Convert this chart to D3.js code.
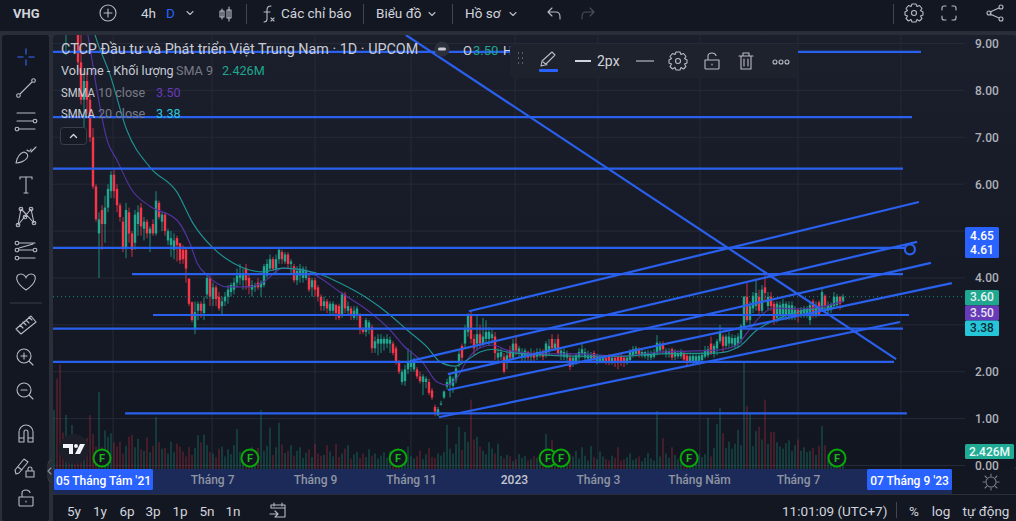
<!DOCTYPE html>
<html lang="vi">
<head>
<meta charset="utf-8">
<title>VHG</title>
<script src="https://cdn.jsdelivr.net/npm/d3@7"></script>
<style>
html,body{margin:0;padding:0;background:#131722;overflow:hidden}
svg{display:block;font-family:Roboto,"Noto Sans",sans-serif}
</style>
</head>
<body>
<svg id="chart" width="1016" height="521"></svg>
<script>
// Daily candles for VHG, ten bars per row
const opens = [
12.4,12.8,12.2,11.6,9.6,10.4,9.9,10,9.4,8.6,
7.8,8.2,7.8,7,5.95,4.95,5.45,5.15,5.5,5.85,
6.2,5.9,5.55,5.2,4.65,5.4,4.95,4.75,5.15,5.5,
5.05,5.2,4.95,5.15,4.95,5.6,5.2,5.35,4.8,4.7,
4.6,4.85,4.74,4.6,4.6,3.98,3.48,2.9,3.3,3.45,
3.25,3.65,4,3.55,3.8,3.6,3.4,3.5,3.6,3.7,
3.75,3.9,4,3.95,4.2,4,3.75,3.8,3.9,3.8,
3.85,4.05,4.2,4.4,4.2,4.4,4.55,4.35,4.5,4.3,
4.25,3.95,4.05,4,4,4,3.8,3.95,3.8,3.6,
3.4,3.5,3.3,3.3,3.42,3.4,3.2,3.65,3.3,3.35,
3.15,3.2,3.2,2.9,2.85,2.9,2.95,2.5,2.6,2.6,
2.6,2.6,2.6,2.6,2.5,2.2,1.78,1.8,2.05,2.1,
2.05,2.05,1.9,1.78,1.78,1.78,1.6,1.25,1.07,1.3,
1.45,1.68,1.72,1.7,1.82,2.2,2.55,2.6,2.85,3.2,
2.7,2.6,2.8,2.6,2.7,2.7,2.72,2.75,2.3,2.32,
2.32,2.2,2.45,2.3,2.6,2.4,2.3,2.3,2.42,2.32,
2.4,2.32,2.35,2.42,2.35,2.45,2.7,2.5,2.7,2.35,
2.32,2.3,2.3,2.2,2.22,2.3,2.38,2.3,2.28,2.28,
2.4,2.22,2.22,2.22,2.3,2.32,2.2,2.3,2.32,2.32,
2.3,2.2,2.25,2.35,2.38,2.48,2.35,2.33,2.33,2.3,
2.32,2.4,2.45,2.6,2.38,2.38,2.48,2.32,2.33,2.33,
2.4,2.34,2.22,2.2,2.22,2.2,2.25,2.32,2.35,2.6,
2.38,2.5,2.65,2.75,2.55,2.6,2.6,2.55,2.6,2.7,
2.98,3.6,3.1,3.35,3.4,3.6,3.3,3.8,3.4,3.6,
3.45,3.15,3.2,3.2,3.2,3.18,3.2,3.22,3.32,3.22,
3.25,3.2,3.1,3.5,3.22,3.48,3.35,3.62,3.3,3.32,
3.4,3.42,3.6,3.5];
const closes = [
12.8,12.2,11.6,11,10.4,9.9,10,9.4,8.6,7.8,
8.2,7.8,7,5.95,5.25,5.25,5.15,5.5,5.9,6.2,
5.85,5.55,5.3,4.65,5.45,4.95,4.6,5.35,5.4,5.1,
5.2,4.95,5.05,4.95,5.65,5.3,5.35,5,5,4.85,
4.8,4.7,4.38,4.4,4.2,3.45,3.1,3.27,3.45,3.3,
3.45,4,3.6,3.8,3.55,3.35,3.5,3.6,3.75,3.85,
3.9,4.05,4.1,4.1,3.95,3.8,3.85,3.85,3.8,3.9,
4.25,4.3,4.4,4.2,4.4,4.6,4.4,4.5,4.3,4.35,
3.95,4.15,4.2,4.2,4.15,3.75,3.95,3.75,3.6,3.4,
3.5,3.35,3.45,3.45,3.25,3.15,3.65,3.35,3.4,3.2,
3.3,3.35,2.9,2.85,3.1,3.05,2.5,2.65,2.7,2.7,
2.7,2.7,2.68,2.4,2.2,2,2,2.05,2.2,2.25,
2.25,1.9,1.8,1.9,1.85,1.55,1.45,1.15,1.2,1.32,
1.58,1.78,1.9,1.85,2.07,2.38,2.3,2.9,3.2,2.7,
2.5,2.8,2.6,2.75,2.85,2.85,2.8,2.4,2.4,2.42,
2,2.35,2.3,2.6,2.45,2.5,2.42,2.45,2.3,2.4,
2.3,2.42,2.42,2.32,2.6,2.55,2.5,2.6,2.4,2.45,
2.42,2.4,2.1,2.3,2.35,2.42,2.48,2.42,2.35,2.35,
2.25,2.32,2.28,2.3,2.2,2.2,2.3,2.2,2.2,2.2,
2.2,2.3,2.42,2.48,2.5,2.38,2.42,2.42,2.4,2.38,
2.4,2.62,2.6,2.48,2.45,2.44,2.3,2.42,2.4,2.42,
2.26,2.2,2.33,2.34,2.33,2.34,2.36,2.45,2.48,2.4,
2.55,2.65,2.85,2.55,2.75,2.75,2.72,2.72,2.75,2.98,
3.6,3.1,3.4,3.62,3.68,3.3,3.75,3.68,3.6,3.4,
3.1,3.45,3.42,3.45,3.45,3.42,3.42,3.32,3.22,3.32,
3.35,3.35,3.42,3.2,3.4,3.22,3.7,3.4,3.42,3.42,
3.6,3.6,3.45,3.6];
const highs = [
13.2,13,12.5,11.8,10.6,10.5,10.2,10,9.5,9.2,
8.4,8.4,7.9,7.2,6,5.4,5.55,5.75,6,6.28,
6.3,6,5.6,5.3,5.6,5.5,5,5.45,5.55,5.6,
5.3,5.25,5.1,5.25,5.85,5.65,5.4,5.4,5.05,5,
4.95,4.9,4.75,4.7,4.65,4,3.5,3.5,3.5,3.5,
3.6,4.05,4.05,3.9,3.85,3.7,3.6,3.7,3.85,3.9,
4,4.2,4.3,4.2,4.3,4.1,3.95,3.9,4,3.95,
4.3,4.4,4.5,4.45,4.5,4.62,4.6,4.55,4.55,4.4,
4.3,4.25,4.3,4.25,4.25,4.1,4,4,3.85,3.65,
3.6,3.55,3.5,3.5,3.45,3.45,3.7,3.7,3.5,3.4,
3.4,3.4,3.25,2.95,3.15,3.1,3,2.75,2.8,2.8,
2.75,2.8,2.75,2.65,2.55,2.25,2.05,2.15,2.5,2.45,
2.3,2.1,2,1.95,1.9,1.85,1.65,1.3,1.25,1.38,
1.6,1.85,1.95,1.9,2.1,2.45,2.6,3,3.25,3.3,
2.8,3.2,3,3.15,3.1,2.95,2.9,2.85,2.5,2.5,
2.4,2.45,2.55,2.7,2.75,2.55,2.5,2.5,2.45,2.5,
2.45,2.5,2.5,2.48,2.65,2.7,2.8,2.7,2.8,2.5,
2.5,2.45,2.4,2.35,2.4,2.5,2.62,2.5,2.45,2.42,
2.45,2.38,2.35,2.35,2.36,2.38,2.35,2.35,2.35,2.38,
2.34,2.34,2.48,2.55,2.55,2.52,2.5,2.45,2.46,2.45,
2.48,2.78,2.65,2.65,2.5,2.5,2.52,2.48,2.46,2.48,
2.44,2.4,2.38,2.4,2.38,2.4,2.42,2.55,2.55,2.75,
2.6,2.7,3,2.8,2.8,2.85,2.8,2.78,2.82,3.02,
3.62,3.89,3.5,3.7,3.95,3.75,3.85,4.06,3.7,3.7,
3.5,3.5,3.5,3.55,3.5,3.5,3.5,3.4,3.36,3.38,
3.4,3.4,3.48,3.55,3.5,3.52,3.78,3.65,3.5,3.48,
3.7,3.66,3.62,3.66];
const lows = [
12,12,11.4,10.6,8.75,9.7,9.5,9.2,8.4,7.7,
7.2,7.5,6.9,5.9,5.2,4,4.6,4.75,5.4,5.7,
5.7,5.4,5.2,4.55,4.42,4.75,4.45,4.6,4.9,4.9,
4.8,4.85,4.55,4.9,4.9,5.25,5,4.9,4.7,4.45,
4.4,4.35,4.3,4.3,3.9,3.4,3.05,2.8,3.1,3.15,
3.1,3.55,3.4,3.4,3.4,3.3,3.2,3.4,3.45,3.6,
3.65,3.8,3.85,3.75,3.75,3.65,3.6,3.7,3.75,3.6,
3.8,4,4.15,4.15,4.1,4.3,4.3,4.3,4.2,4.1,
3.9,3.85,3.9,3.9,3.95,3.7,3.6,3.6,3.5,3.3,
3.3,3.25,3.2,3.2,3.1,3.1,3.15,3.25,3.2,3.1,
3.1,3.1,2.8,2.8,2.75,2.8,2.4,2.4,2.35,2.4,
2.45,2.5,2.4,2.35,2.15,1.95,1.72,1.7,1.95,2,
2,1.85,1.75,1.5,1.65,1.5,1.4,1.05,1.05,1.28,
1.42,1.62,1.45,1.55,1.75,2.1,2.2,2.5,2.75,2.6,
2.35,2.45,2.5,2.55,2.6,2.55,2.6,2.25,2.2,2.25,
1.96,2.05,2.2,2.25,2.35,2.3,2.2,2.2,2.2,2.2,
2.22,2.25,2.3,2.25,2.3,2.35,2.45,2.45,2.35,2.25,
2.25,2.22,2.03,2.1,2.15,2.2,2.3,2.2,2.2,2.2,
2.2,2.16,2.18,2.18,2.15,2.14,2.15,2.1,2.05,2.12,
2.1,2.15,2.2,2.3,2.32,2.3,2.3,2.28,2.25,2.25,
2.28,2.35,2.4,2.4,2.3,2.3,2.25,2.25,2.28,2.28,
2.22,2.12,2.18,2.14,2.15,2.15,2.2,2.28,2.3,2.35,
2.3,2.35,2.6,2.42,2.5,2.5,2.52,2.5,2.5,2.6,
2.95,3.05,3,3.25,3.3,3.2,3.25,3.5,3.3,3.3,
3,3.05,3.1,3.1,3.1,3.1,3.1,3.1,3.05,3.15,
3.15,3.15,3,3.15,3.15,3.18,3.3,3.3,3.25,3.25,
3.35,3.38,3.32,3.48];
// Traded volume in millions of shares
const volumes = [
8.4,12.9,14.9,5.2,7.7,4.1,6.3,3.4,4.2,3.0,
2.4,4.4,7.7,5.0,3.2,11.0,3.1,5.5,4.6,5.1,
3.8,3.2,3.9,2.2,3.3,4.6,4.9,3.1,4.3,2.8,
2.6,4.5,2.4,3.3,7.4,3.8,2.9,3.0,2.2,3.9,
2.4,3.6,3.2,2.5,1.8,3.1,2.0,3.0,4.8,3.8,
4.9,3.4,2.4,2.2,1.7,2.9,3.2,1.8,2.8,2.1,
3.4,5.7,2.4,1.6,1.6,2.6,3.1,2.1,3.0,8.4,
2.6,3.3,5.9,2.0,3.1,6.6,3.5,2.3,2.6,3.4,
1.9,2.6,3.1,1.6,2.3,2.8,1.7,3.6,2.2,1.9,
2.0,3.4,2.5,1.8,3.6,1.7,2.2,2.9,3.4,1.5,
2.1,2.4,1.6,2.2,1.7,2.8,1.9,2.2,1.5,1.9,
2.4,1.6,2.5,2.3,1.5,1.9,2.6,1.9,3.2,1.8,
1.5,1.8,2.6,1.4,2.1,3.0,1.7,1.6,2.2,1.9,
2.4,6.3,2.9,2.2,3.6,6.0,2.7,5.3,3.9,9.9,
4.2,4.6,3.2,2.6,2.1,3.8,2.9,2.2,3.6,1.9,
1.5,2.0,1.8,1.1,1.4,2.1,1.6,1.9,1.2,1.4,
1.8,1.6,2.1,1.2,5.0,1.5,4.1,2.5,1.5,1.9,
1.7,1.4,2.1,1.8,2.6,1.5,3.1,1.9,1.2,3.3,
1.7,1.4,2.5,1.8,1.4,1.2,1.9,1.6,3.1,1.2,
1.4,1.7,2.2,1.3,1.5,1.8,1.1,1.6,2.3,1.5,
1.2,8.3,1.8,4.4,2.2,1.6,3.1,2.0,1.4,0.9,
1.6,1.2,1.5,2.4,1.3,2.1,1.7,2.1,7.3,1.8,
3.0,6.4,8.7,5.1,3.0,3.9,2.9,3.6,5.6,3.4,
15.4,9.0,8.0,3.3,5.4,6.0,4.2,9.9,3.6,5.3,
5.3,3.8,3.2,2.9,3.7,4.1,2.6,3.4,4.2,2.6,
3.1,2.4,2.6,3.0,2.0,3.3,6.1,3.4,2.1,1.4,
2.6,1.8,2.2,2.426];
// Smoothed moving averages sampled along their curves
const smma10Bars = [7,11.3,14.7,17.7,21,26,32,41,45.3,47.7,51,57.7,65.3,69.7,76.3,84.3,88.7,95.3,104.3,112,116.3,123,127.7,131,134.3,137.7,142,146.3,151,162,175.3,188.7,202,221,227.7,231,235.3,239.7,246.3,253,263];
const smma10Vals = [10.4,9.18,7.86,6.94,6.51,5.87,5.53,5.23,4.74,4.32,4.06,3.81,3.81,3.91,4.21,4.15,4,3.7,3.32,2.89,2.57,2.19,1.78,1.72,1.87,2.25,2.51,2.57,2.46,2.38,2.38,2.33,2.42,2.46,2.57,2.83,3.17,3.36,3.34,3.36,3.5];
const smma20Bars = [9,13.7,18.7,24.3,32,41,46.3,53,59.7,69.7,76.3,84.3,88.7,95.3,104.3,112,117.7,124.3,128.7,133.7,137.7,142,146.3,151,162,175.3,188.7,202,221,228.7,234.3,239.7,246.3,257.7,263];
const smma20Vals = [10.4,9.18,8.33,7.15,6.36,5.83,5.17,4.64,4.32,4.13,4.21,4.15,4.08,3.89,3.57,3.21,2.89,2.53,2.21,2.12,2.25,2.42,2.48,2.42,2.36,2.33,2.33,2.38,2.4,2.55,2.89,3.08,3.25,3.36,3.38];
// Drawn support and resistance levels: price, first bar, last bar
const levelPrices = [8.82,7.43,6.33,4.64,4.08,3.21,2.92,2.21,1.11];
const levelStarts = [-1,-1,-1,-1,26,33,-1,-1,23.7];
const levelEnds = [289,286,283,285,283,285,283,280,284.3];
// Drawn trend lines: start bar, start price, end bar, end price
const trendStartBars = [117.3,138.3,119,131.3,131.3,128.3];
const trendStartPrices = [9.18,3.29,2.23,1.95,1.61,1.03];
const trendEndBars = [280.7,288.3,287.7,292.3,299.3,282];
const trendEndPrices = [2.27,5.62,4.77,4.32,3.89,3.06];
// Axis contents
const priceTicks = [0,1,2,4,6,7,8,9];
const gridPrices = [0,1,2,3,4,5,6,7,8,9];
const timeGridBars = [19.7,52.7,87,119,153.7,181.3,215.3,248,282.3];
const timeLabelBars = [52.7,87,119,153.3,181.3,215,248];
const timeLabels = ["Tháng 7","Tháng 9","Tháng 11","2023","Tháng 3","Tháng Năm","Tháng 7"];
const dividendBars = [16,65.3,114.7,164.7,169,211.7,261];
const priceBadges = [["3.60","#1fa78f",297,"#e8f5f2"],["3.50","#673ab7",312.5,"#e8e4f5"],["3.38","#26c6da",328,"#0c2a33"]];
const rangeTabs = ["5y","1y","6p","3p","1p","5n","1n"];

const W = 1016, H = 521;
const pane = {left:53,right:965,top:35,bottom:469};
const x = d3.scaleLinear().domain([0,263]).range([54,843]);
const y = d3.scaleLinear().domain([0,9]).range([465.5,43.5]);
const vol = d3.scaleLinear().domain([0,15.4]).range([469,361]);

const GREEN = "#1fa78f", RED = "#f7364a", BLUE = "#2a60ee";
const svg = d3.select("#chart");
const defs = svg.append("defs");
const grad = defs.append("linearGradient").attr("id","paneFill").attr("x1",0).attr("x2",0).attr("y1",0).attr("y2",1);
grad.append("stop").attr("offset",0).attr("stop-color","#1b1f2c");
grad.append("stop").attr("offset",1).attr("stop-color","#121621");
defs.append("clipPath").attr("id","paneClip").append("rect")
  .attr("x",pane.left).attr("y",pane.top).attr("width",pane.right-pane.left).attr("height",pane.bottom-pane.top);

// Window chrome
svg.append("rect").attr("width",W).attr("height",H).attr("fill","#2a2e39");
svg.append("rect").attr("width",W).attr("height",31).attr("fill","#131722");
svg.append("rect").attr("x",2).attr("y",35).attr("width",47).attr("height",H-35).attr("rx",3).attr("fill","#131722");
svg.append("rect").attr("x",pane.left).attr("y",pane.top).attr("width",W-pane.left).attr("height",pane.bottom-pane.top).attr("rx",3).attr("fill","url(#paneFill)");
svg.append("rect").attr("x",pane.left).attr("y",494).attr("width",W-pane.left).attr("height",27).attr("fill","#131722");
svg.append("rect").attr("x",pane.left).attr("y",469).attr("width",W-pane.left).attr("height",25).attr("fill","#131722");

// Grid
const plot = svg.append("g").attr("clip-path","url(#paneClip)");
plot.append("g").selectAll("line").data(gridPrices).join("line")
  .attr("x1",pane.left).attr("x2",pane.right).attr("y1",d=>y(d)).attr("y2",d=>y(d))
  .attr("stroke","#262a36").attr("stroke-width",1);
plot.append("g").selectAll("line").data(timeGridBars).join("line")
  .attr("x1",d=>x(d)).attr("x2",d=>x(d)).attr("y1",pane.top).attr("y2",pane.bottom)
  .attr("stroke","#262a36").attr("stroke-width",1);

const bars = closes.map((c,i)=>({i,o:opens[i],c,h:highs[i],l:lows[i],v:volumes[i],up:c>=opens[i]}));

// Volume histogram
plot.append("g").selectAll("rect").data(bars).join("rect")
  .attr("x",d=>x(d.i)-0.6).attr("width",1.2)
  .attr("y",d=>vol(d.v)).attr("height",d=>vol(0)-vol(d.v))
  .attr("fill",d=>d.up?GREEN:RED).attr("opacity",d=>d.up?0.42:0.38);

// Candles
const candles = plot.append("g");
candles.selectAll("line").data(bars).join("line")
  .attr("x1",d=>x(d.i)).attr("x2",d=>x(d.i)).attr("y1",d=>y(d.h)).attr("y2",d=>y(d.l))
  .attr("stroke",d=>d.up?GREEN:RED).attr("stroke-width",1).attr("opacity",0.8);
candles.selectAll("rect").data(bars).join("rect")
  .attr("x",d=>x(d.i)-1.2).attr("width",2.4)
  .attr("y",d=>y(Math.max(d.o,d.c))).attr("height",d=>Math.max(1,Math.abs(y(d.o)-y(d.c))))
  .attr("fill",d=>d.up?GREEN:RED);

// Last price marker
plot.append("line").attr("x1",pane.left).attr("x2",pane.right).attr("y1",y(3.6)).attr("y2",y(3.6))
  .attr("stroke",GREEN).attr("stroke-width",1).attr("stroke-dasharray","1 3").attr("opacity",0.8);

// Moving averages
const avgLine = d3.line().x(d=>x(d[0])).y(d=>y(d[1])).curve(d3.curveMonotoneX);
plot.append("path").attr("d",avgLine(smma10Bars.map((b,i)=>[b,smma10Vals[i]])))
  .attr("fill","none").attr("stroke","#54339f").attr("stroke-width",1.15);
plot.append("path").attr("d",avgLine(smma20Bars.map((b,i)=>[b,smma20Vals[i]])))
  .attr("fill","none").attr("stroke","#1f9293").attr("stroke-width",1.15);

// Drawings on top of the series
const drawn = plot.append("g").attr("stroke",BLUE).attr("stroke-width",2.2).attr("fill","none");
drawn.selectAll("line.level").data(levelPrices).join("line").attr("class","level")
  .attr("x1",(d,i)=>x(levelStarts[i])).attr("x2",(d,i)=>x(levelEnds[i]))
  .attr("y1",d=>y(d)).attr("y2",d=>y(d));
drawn.selectAll("line.trend").data(trendStartBars).join("line").attr("class","trend")
  .attr("x1",d=>x(d)).attr("y1",(d,i)=>y(trendStartPrices[i]))
  .attr("x2",(d,i)=>x(trendEndBars[i])).attr("y2",(d,i)=>y(trendEndPrices[i]));
drawn.append("circle").attr("cx",x(285.3)).attr("cy",y(4.61)).attr("r",5).attr("fill","#161a25");

// Price axis
const priceAxis = d3.axisRight(y).tickValues(priceTicks).tickSize(0).tickPadding(0).tickFormat(d3.format(".2f"));
const pa = svg.append("g").attr("transform","translate(975,0)").call(priceAxis);
pa.select(".domain").remove();
pa.selectAll("text").attr("fill","#aeb1ba").attr("font-size",12).attr("font-family","Roboto,sans-serif").attr("font-weight",500);

function badge(x0,x1,y0,y1,fill){
  svg.append("rect").attr("x",x0).attr("y",y0).attr("width",x1-x0).attr("height",y1-y0).attr("rx",1.5).attr("fill",fill);
}
function label(tx,ty,s,opt={}){
  const t = svg.append("text").attr("x",tx).attr("y",ty).text(s)
    .attr("fill",opt.fill||"#d1d4dc").attr("font-size",opt.size||13)
    .attr("font-weight",opt.weight||400).attr("text-anchor",opt.anchor||"start");
  if(opt.fit) t.attr("textLength",opt.fit).attr("lengthAdjust","spacingAndGlyphs");
  return t;
}
// Drawing price range badge
badge(965,999,227,258,"#2962ff");
label(982,240,"4.65",{fill:"#fff",size:12,anchor:"middle",weight:500});
label(982,254,"4.61",{fill:"#fff",size:12,anchor:"middle",weight:500});
// Series value badges
priceBadges.forEach((b,i)=>{
  badge(965,999,[290,305.5,320.5][i],[305.5,320.5,336][i],b[1]);
  label(982,b[2]+4.3,b[0],{fill:b[3],size:12,anchor:"middle",weight:500});
});
badge(965,1014,444,459,"#22ab94");
label(989.5,456,"2.426M",{fill:"#eafaf6",size:12,anchor:"middle",weight:500});

// Time axis
svg.append("rect").attr("x",pane.left).attr("y",469).attr("width",899).attr("height",25).attr("fill","#1b2a58");
svg.append("line").attr("x1",pane.left).attr("x2",W).attr("y1",494.5).attr("y2",494.5).attr("stroke","#2a2e39");
const timeAxis = d3.axisBottom(x).tickValues(timeLabelBars).tickSize(0).tickPadding(0)
  .tickFormat((d,i)=>timeLabels[i]);
const ta = svg.append("g").attr("transform","translate(0,475)").call(timeAxis);
ta.select(".domain").remove();
ta.selectAll("text").attr("fill",(d,i)=>timeLabels[i]==="2023"?"#c5c8d0":"#8f95a3").attr("font-size",12).attr("font-family","Roboto,sans-serif").attr("font-weight",500);
badge(54,153,469,490,"#2962ff");
label(103.5,485,"05 Tháng Tám '21",{fill:"#fff",size:12,anchor:"middle",weight:500});
badge(867,952,469,490,"#2962ff");
label(909.5,485,"07 Tháng 9 '23",{fill:"#fff",size:12,anchor:"middle",weight:500});

// Earnings markers
const marks = svg.append("g").selectAll("g").data(dividendBars).join("g")
  .attr("transform",d=>`translate(${x(d)},458)`);
marks.append("circle").attr("r",8.5).attr("fill","#121621").attr("stroke","#08a808").attr("stroke-width",2);
marks.append("text").text("F").attr("text-anchor","middle").attr("y",4).attr("fill","#1bb81b").attr("font-size",11).attr("font-weight",700);

// Watermark logo
const logo = svg.append("g").attr("transform","translate(74,449)");
logo.append("circle").attr("r",15).attr("fill","#1c1f2a");
logo.append("path").attr("d","M-11,-5H-1V5H-5V-1H-11ZM0,-3A2,2 0 1 0 4,-3A2,2 0 1 0 0,-3ZM6,-5H11L6,5H1Z").attr("fill","#f0f3fa");

// Legend
label(61,54,"CTCP Đầu tư và Phát triển Việt Trung Nam · 1D · UPCOM",{size:14.35,fill:"#c9ccd4"});
svg.append("circle").attr("cx",442).attr("cy",49).attr("r",7.5).attr("fill","#2c303c");
svg.append("rect").attr("x",438).attr("y",47.5).attr("width",8).attr("height",3).attr("rx",1.5).attr("fill","#c9ccd4");
label(463,55,"O",{size:13});
label(473,55,"3.50",{size:13,fill:GREEN});
label(503,55,"H",{size:13});
label(61,75,"Volume - Khối lượng",{size:12.6,fill:"#c9ccd4"});
label(176,75,"SMA 9",{size:12.6,fill:"#787b86"});
label(222,75,"2.426M",{size:12.6,fill:GREEN});
label(61,97,"SMMA",{size:12.6,fill:"#c9ccd4",fit:34});
label(98,97,"10 close",{size:12.6,fill:"#787b86"});
label(156,97,"3.50",{size:12.6,fill:"#673ab7"});
label(61,118,"SMMA",{size:12.6,fill:"#c9ccd4",fit:34});
label(98,118,"20 close",{size:12.6,fill:"#787b86"});
label(156,118,"3.38",{size:12.6,fill:"#26c6da"});
svg.append("rect").attr("x",60.5).attr("y",127.5).attr("width",26).attr("height",17).attr("rx",3).attr("fill","#161a25").attr("stroke","#3a3e4a");

// Stroke-only icons, positioned around their own centre
function icon(cx,cy,d,opt={}){
  svg.append("path").attr("transform",`translate(${cx},${cy})`).attr("d",d)
    .attr("fill",opt.fill||"none").attr("stroke",opt.stroke||"#b8bbc4").attr("stroke-width",opt.width||1.1)
    .attr("stroke-linecap","round").attr("stroke-linejoin","round");
}
const dot = (cx,cy)=>`M${cx-1.8},${cy}A1.8,1.8 0 1 0 ${cx+1.8},${cy}A1.8,1.8 0 1 0 ${cx-1.8},${cy}Z`;
const gear = "M-2,-9H2L3,-6.5L5.5,-7.5L8,-4.5L6.5,-2.5L9,-1V2L6.5,3L8,5.5L5.5,8L3,6.5L2,9H-2L-3,6.5L-5.5,8L-8,5.5L-6.5,3L-9,2V-1L-6.5,-2.5L-8,-4.5L-5.5,-7.5L-3,-6.5ZM-2.5,0A2.5,2.5 0 1 0 2.5,0A2.5,2.5 0 1 0 -2.5,0Z";
const lockOpen = "M-7,-1H7V7Q7,8 6,8H-6Q-7,8 -7,7ZM-4,-1V-5Q-4,-8 0,-8Q3,-8 4,-5.5M0,3V4";
const chevron = "M-3,-1.5L0,1.5L3,-1.5";
icon(26,57,"M0,-8V-3M0,3V8M-8,0H-3M3,0H8",{stroke:"#2a4fb8",width:1.6});
icon(26,88,"M-6,6L6,-6"+dot(-7.5,7.5)+dot(7.5,-7.5));
icon(26,121,"M-9,-8H9M-9,0H7M-7,8H9"+dot(9,0)+dot(-9,8));
icon(26,155,"M-10,8C-9,3 -6,-2 -2,-3C1,-2 3,0 1,3C-1,6 -6,8 -10,8ZM1,-5C3,-3 5,-4 5,-6M5,-3L10,-8");
icon(26,185,"M-6,-6V-8H6V-6M0,-8V8M-2,8H2");
icon(26,217,"M-5,-8L-8,8M-5,-8L8,6M5,-8L-8,8M5,-8L8,6M-5,-8L0,-3"+dot(-5,-8)+dot(5,-8)+dot(-8,8)+dot(8,6)+dot(-1,0));
icon(26,250,"M-7,-7H9M-7,0H7M-7,8H9M-7,-2L7,-6"+dot(-9,-7)+dot(-9,0)+dot(-9,8)+dot(9,0));
icon(26,282,"M0,8C-12,0 -11,-8 -5,-8C-2,-8 0,-5 0,-4C0,-5 2,-8 5,-8C11,-8 12,0 0,8Z");
svg.append("line").attr("x1",10).attr("x2",42).attr("y1",303).attr("y2",303).attr("stroke","#3a3e4a");
icon(26,325,"M-10,4L5,-9L10,-3L-5,9ZM-6,0L-3,3M-3,-3L0,0M0,-5L3,-2M3,-8L6,-5");
icon(24,356,"M-7,0A7,7 0 1 0 7,0A7,7 0 1 0 -7,0ZM5,5L9,9M-3,0H3M0,-3V3");
icon(24,390,"M-7,0A7,7 0 1 0 7,0A7,7 0 1 0 -7,0ZM5,5L9,9M-3,0H3");
icon(26,434,"M-7,8V-2A7,7 0 0 1 7,-2V8H2V-2A2,2 0 0 0 -2,-2V8ZM-7,4H-2M2,4H7");
icon(22,467,"M-6,7L-7,3L2,-8L6,-5L-3,6ZM-4,0L0,3");
icon(30,472,"M-4,-1H4V5H-4ZM-2,-1V-3A2,2 0 0 1 2,-3V-1");
icon(26,498,lockOpen);
icon(108,13,"M-8,0A8,8 0 1 0 8,0A8,8 0 1 0 -8,0ZM-4,0H4M0,-4V4");
icon(190,13,chevron);
icon(225,14,"M-3,-5V5M-5,-3H-1V3H-5ZM4,-7V7M2,-4H6V4H2Z");
icon(268,14,"M3,-8Q-1,-8 -1,-4V5Q-1,8 -4,8M-4,-2H2M3,4L6,7M6,4L3,7");
icon(432,14,chevron);
icon(513,14,chevron);
icon(554,14,"M-6,-2H2Q6,-2 6,3V5M-6,-2L-2,-6M-6,-2L-2,2");
icon(588,14,"M6,-2H-2Q-6,-2 -6,3V5M6,-2L2,-6M6,-2L2,2",{stroke:"#4a4e5a"});
icon(914,13,gear);
icon(949,13,"M-7,-3V-5Q-7,-7 -5,-7H-3M3,-7H5Q7,-7 7,-5V-3M7,3V5Q7,7 5,7H3M-3,7H-5Q-7,7 -7,5V3");
icon(995,13,"M-5,-1L4,-5M-5,1L4,5M-8,0A2,2 0 1 0 -4,0A2,2 0 1 0 -8,0ZM4,-6A2,2 0 1 0 8,-6A2,2 0 1 0 4,-6ZM4,6A2,2 0 1 0 8,6A2,2 0 1 0 4,6Z");
icon(278,511,"M-7,-3V-6H7V6H-3M-7,-3H7M-4,-8V-5M4,-8V-5M-8,3H-1M-3,0L0,3L-3,6");
icon(991,482,"M-5,0A5,5 0 1 0 5,0A5,5 0 1 0 -5,0ZM0,-8V-6M0,6V8M-8,0H-6M6,0H8M-6,-6L-4.5,-4.5M6,-6L4.5,-4.5M-6,6L-4.5,4.5M6,6L4.5,4.5",{stroke:"#787b86"});
icon(73.5,136,"M-3,1.5L0,-1.5L3,1.5",{stroke:"#d1d4dc",width:1.4});
svg.append("path").attr("d","M52,460Q48,460 48,464V478Q48,482 52,482").attr("fill","none").attr("stroke","#3a3e4a");
icon(49.5,471,"M1.5,-3L-1.5,0L1.5,3",{stroke:"#9598a1"});

// Top bar text and separators
label(13,18,"VHG",{size:13,weight:700});
label(141,18,"4h",{size:13.5});
label(166,18,"D",{size:13.5,fill:"#2962ff"});
label(281,18,"Các chỉ báo",{size:13.5});
label(376,18,"Biểu đồ",{size:13.5});
label(465,18,"Hồ sơ",{size:13.5});
[246,363,452,893].forEach(sx=>svg.append("line").attr("x1",sx+.5).attr("x2",sx+.5).attr("y1",4).attr("y2",24).attr("stroke","#434651"));

// Floating drawing toolbar
svg.append("rect").attr("x",510).attr("y",44).attr("width",288).attr("height",34).attr("rx",4).attr("fill","#1e222d");
svg.append("path").attr("d","M518,53h1M522,53h1M518,58h1M522,58h1M518,63h1M522,63h1").attr("stroke","#5d606b").attr("stroke-width",2);
icon(548,60,"M-7,6L-6,1L4,-8L7,-5L-3,5ZM-5,2L-1,5");
svg.append("rect").attr("x",539).attr("y",69).attr("width",19).attr("height",3).attr("rx",1).attr("fill","#2962ff");
svg.append("line").attr("x1",575).attr("x2",591).attr("y1",61).attr("y2",61).attr("stroke","#d1d4dc").attr("stroke-width",2);
label(597,65.5,"2px",{size:14});
svg.append("line").attr("x1",636).attr("x2",654).attr("y1",61).attr("y2",61).attr("stroke","#787b86").attr("stroke-width",2);
icon(678,61,gear);
icon(712,61,lockOpen);
icon(746,61,"M-7,-5H7M-5,-5V8H5V-5M-3,-5V-8H3V-5M-2,-2V5M2,-2V5");
icon(781,62,"M-8,0A2,2 0 1 0 -4,0A2,2 0 1 0 -8,0ZM-2,0A2,2 0 1 0 2,0A2,2 0 1 0 -2,0ZM4,0A2,2 0 1 0 8,0A2,2 0 1 0 4,0Z");

// Bottom bar
[74,100,127,153,180,207,233].forEach((tx,i)=>label(tx,516,rangeTabs[i],{size:13.5,anchor:"middle"}));
label(782,516,"11:01:09 (UTC+7)",{size:13.5});
svg.append("line").attr("x1",896.5).attr("x2",896.5).attr("y1",502).attr("y2",518).attr("stroke","#434651");
label(914,516,"%",{size:13.5,anchor:"middle"});
label(941,516,"log",{size:13.5,anchor:"middle"});
label(986,516,"tự động",{size:13.5,anchor:"middle"});
</script>
</body>
</html>
